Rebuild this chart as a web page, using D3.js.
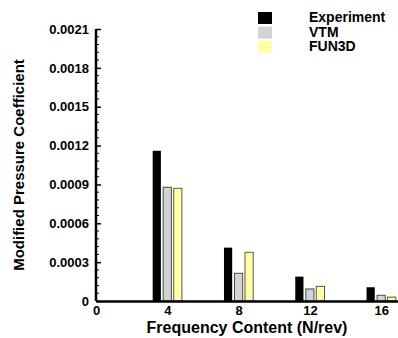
<!DOCTYPE html>
<html>
<head>
<meta charset="utf-8">
<script src="https://cdn.jsdelivr.net/npm/d3@7"></script>
<style>
  body { margin: 0; background: #fff; }
  svg { display: block; font-family: "Liberation Sans", Arial, sans-serif; font-weight: bold; }
</style>
</head>
<body>
<div id="chart"></div>
<script>
// harmonic number (N/rev)
const harmonics = [4, 8, 12, 16];
const seriesNames = ["Experiment", "VTM", "FUN3D"];
const experiment = [0.00116, 0.000412, 0.000188, 0.000106];
const vtm = [0.000878, 0.000214, 0.000093, 0.000044];
const fun3d = [0.00087, 0.000376, 0.000113, 0.00003];
const yTicks = [0, 0.0003, 0.0006, 0.0009, 0.0012, 0.0015, 0.0018, 0.0021];
const xTicks = [0, 4, 8, 12, 16];

const width = 398, height = 338;
const fills = ["#000000", "#d3d3d3", "#ffffa6"];
const strokes = ["#000000", "#4a4a4a", "#5a5a3a"];

const svg = d3.select("#chart").append("svg")
  .attr("width", width)
  .attr("height", height);

const x = d3.scaleLinear().domain([0, 17]).range([96, 399]);
const y = d3.scaleLinear().domain([0, 0.0021]).range([301, 29]);

// bars: black left of the tick, VTM on it, FUN3D right
const offset = 0.59, barW = 0.46;
const allSeries = [experiment, vtm, fun3d];
allSeries.forEach((vals, s) => {
  svg.append("g")
    .selectAll("rect")
    .data(vals)
    .join("rect")
    .attr("x", (d, i) => x(harmonics[i] + (s - 1) * offset - barW / 2))
    .attr("width", x(barW) - x(0))
    .attr("y", d => y(d))
    .attr("height", d => y(0) - y(d))
    .attr("fill", fills[s])
    .attr("stroke", strokes[s])
    .attr("stroke-width", s === 0 ? 0 : 1);
});

// y axis, ticks pointing inward
const fmt = d => d === 0 ? "0" : d3.format(".4f")(d);
const yAxis = svg.append("g")
  .attr("transform", `translate(${x(0)},0)`)
  .call(d3.axisLeft(y).tickValues(yTicks).tickFormat(fmt).tickSize(-5).tickPadding(7));
yAxis.select(".domain").attr("stroke-width", 2.5).attr("d", `M0,${y(0.0021)}V${y(0)}`);
yAxis.selectAll(".tick line").attr("stroke-width", 1.5);
yAxis.selectAll("text").style("font-size", "13px").style("font-weight", "bold").attr("fill", "#000");

// minor ticks
const minor = d3.range(0, 0.00211, 0.00006).filter(v => Math.abs(v / 0.0003 - Math.round(v / 0.0003)) > 0.01);
svg.append("g").selectAll("line")
  .data(minor)
  .join("line")
  .attr("x1", x(0)).attr("x2", x(0) + 3)
  .attr("y1", d => y(d)).attr("y2", d => y(d))
  .attr("stroke", "#000").attr("stroke-width", 1);

// x axis
const xAxis = svg.append("g")
  .attr("transform", `translate(0,${y(0)})`)
  .call(d3.axisBottom(x).tickValues(xTicks).tickSize(0).tickPadding(5));
xAxis.select(".domain").attr("stroke-width", 2.5);
xAxis.selectAll("text").style("font-size", "13px").style("font-weight", "bold").attr("fill", "#000");

// titles
svg.append("text")
  .attr("x", 247).attr("y", 333)
  .attr("text-anchor", "middle")
  .style("font-size", "16px")
  .text("Frequency Content (N/rev)");

svg.append("text")
  .attr("transform", "translate(24,165) rotate(-90)")
  .attr("text-anchor", "middle")
  .style("font-size", "15px")
  .text("Modified Pressure Coefficient");

// legend
const legend = svg.append("g").attr("transform", "translate(258,12)");
seriesNames.forEach((name, i) => {
  legend.append("rect")
    .attr("x", 0).attr("y", i * 14.5)
    .attr("width", 14).attr("height", 12)
    .attr("fill", fills[i]);
  legend.append("text")
    .attr("x", 51).attr("y", i * 14.5 + 10)
    .style("font-size", "14px")
    .text(name);
});
</script>
</body>
</html>
